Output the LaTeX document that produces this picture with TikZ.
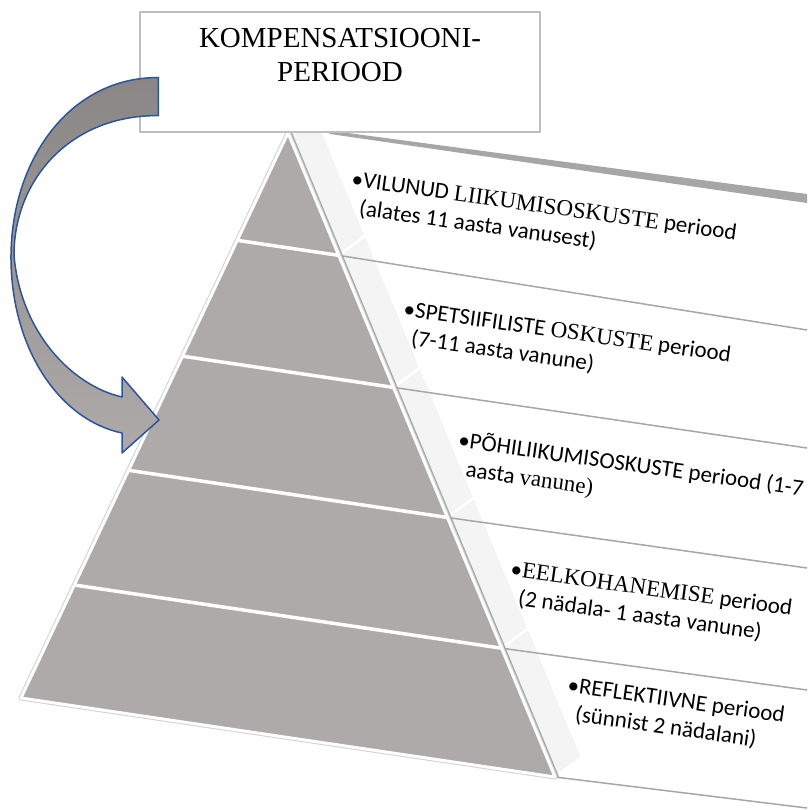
\documentclass[tikz,border=0pt]{standalone}
\usepackage{fontspec}
\setmainfont{Liberation Serif}
\newfontfamily\calibri{Carlito}
\usetikzlibrary{calc,positioning}

\definecolor{pyrgray}{HTML}{ADAAA9}
\definecolor{stripgray}{HTML}{F4F4F4}
\definecolor{linegray}{HTML}{A6A6A6}
\definecolor{rimgray}{HTML}{D2D2D2}
\definecolor{boxgray}{HTML}{BFBFBF}
\definecolor{arrowblue}{HTML}{2F5496}
\definecolor{arrowdark}{HTML}{8A8686}
\definecolor{arrowlight}{HTML}{AEAAAA}

\newcommand{\tms}[1]{{\rmfamily #1}}
\newcommand{\hang}{\hphantom{•}}

\tikzset{kompbox/.style={rectangle, draw=boxgray, line width=1.2pt, fill=white,
  minimum width=400pt, minimum height=120pt, inner sep=0pt}}
\tikzset{periodtext/.style={anchor=north west, rotate=-8, align=left, inner sep=0pt,
  font=\calibri\fontsize{23}{28}\selectfont}}
\tikzset{panelline/.style={draw=linegray, line width=1.5pt}}
\tikzset{sepline/.style={draw=white, line width=3.5pt}}

\begin{document}
\begin{tikzpicture}[x=1pt, y=-1pt, line join=round]
  \useasboundingbox (0,0) rectangle (807,810);

  \coordinate (apex) at (288,133);
  \coordinate (botL) at (21,698);
  \coordinate (botR) at (555,777);

  % band corners on both sides
  \foreach \f/\n in {0/0, 0.19/1, 0.395/2, 0.597/3, 0.8/4, 1/5} {
    \coordinate (J\n) at ($(apex)!\f!(botR)$);
    \coordinate (L\n) at ($(apex)!\f!(botL)$);
  }

  \fill[linegray] (325,130) -- (807,194) -- (807,203) -- (330,134) -- cycle;

  \foreach \a/\b in {0/1, 1/2, 2/3, 3/4, 4/5}
    \fill[stripgray, draw=white, line width=2.5pt] (J\a) -- ++(27,-20) -- ($(J\b)+(27,-20)$) -- (J\b) -- cycle;

  \foreach \n/\y in {1/330, 2/448, 3/568, 4/690, 5/808}
    \draw[panelline] (J\n) -- (807,\y);

  % pyramid
  \draw[rimgray, line width=5pt] (apex) -- (botL) -- (botR) -- cycle;
  \draw[linegray, line width=1.2pt] ($(apex)+(3.5,0)$) -- ($(botR)+(3.5,0)$);
  \fill[pyrgray, draw=white, line width=3pt] (apex) -- (botL) -- (botR) -- cycle;
  \foreach \n in {1,...,4}
    \draw[sepline] (L\n) -- (J\n);

  \node[periodtext] (vilunud) at (353,170) {•VILUNUD \tms{LIIKUMISOSKUSTE} periood\\\hang(alates 11 aasta vanusest)};
  \node[periodtext] (spets) at (405,300) {•SPETSIIFILISTE \tms{OSKUSTE} periood\\\hang(7-11 aasta vanune)};
  \node[periodtext] (pohi) at (460,429) {•PÕHILIIKUMISOSKUSTE periood (1-7\\\hang aasta \tms{vanune)}};
  \node[periodtext] (eelko) at (512,560) {•\tms{EELKOHANEMISE} periood\\\hang(2 nädala- 1 aasta vanune)};
  \node[periodtext] (reflek) at (569,676) {•REFLEKTIIVNE periood\\\hang(sünnist 2 nädalani)};

  \node[kompbox] (komp) at (340,72) {};
  \node[below=17pt of komp.north, align=center, inner sep=0pt,
    font=\fontsize{29}{34}\selectfont] (kompText) {KOMPENSATSIOONI-\\PERIOOD};

  % curved arrow
  \coordinate (tailTop) at ($(komp.south west)+(19,-55)$);
  \coordinate (tailBot) at ($(komp.south west)+(19,-17)$);
  \coordinate (tip) at (159,420);
  \draw[draw=arrowblue, line width=1.5pt, top color=arrowdark, bottom color=arrowlight]
    (tailTop) .. controls (70,77) and (10,160) .. (11,260)
    .. controls (12,350) and (60,420) .. (122,433)
    -- (122,453) -- (tip) -- (122,377) -- (122,397)
    .. controls (70,385) and (20,330) .. (14,255)
    .. controls (14,180) and (70,115) .. (tailBot) -- cycle;
\end{tikzpicture}
\end{document}
